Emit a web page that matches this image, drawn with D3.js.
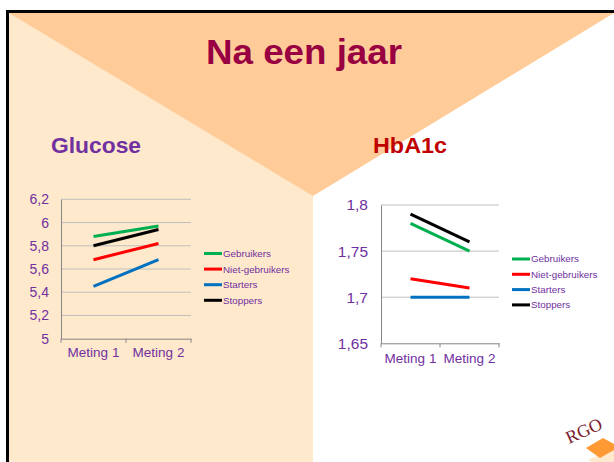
<!DOCTYPE html>
<html>
<head>
<meta charset="utf-8">
<script src="https://cdn.jsdelivr.net/npm/d3@7"></script>
<style>
  html, body { margin: 0; padding: 0; background: #ffffff; }
  svg { display: block; font-family: "Liberation Sans", Arial, sans-serif; }
</style>
</head>
<body>
<svg id="chart" width="614" height="462"></svg>
<script>
// ---------------- DATA ----------------
const categories = ["Meting 1", "Meting 2"];
const seriesNames = ["Gebruikers", "Niet-gebruikers", "Starters", "Stoppers"];
const seriesColors = ["#00B050", "#FF0000", "#0070C0", "#000000"];

const glucoseGebruikers = [5.88, 5.97];
const glucoseNietGebruikers = [5.68, 5.82];
const glucoseStarters = [5.45, 5.68];
const glucoseStoppers = [5.80, 5.94];
const glucoseTicks = [5, 5.2, 5.4, 5.6, 5.8, 6, 6.2];

const hba1cGebruikers = [1.78, 1.75];
const hba1cNietGebruikers = [1.72, 1.71];
const hba1cStarters = [1.70, 1.70];
const hba1cStoppers = [1.79, 1.76];
const hba1cTicks = [1.65, 1.7, 1.75, 1.8];

const pageTitle = "Na een jaar";
const chartTitles = ["Glucose", "HbA1c"];

// ---------------- BACKGROUND ----------------
const svg = d3.select("#chart");
const W = 614, H = 462;
const L = 9, T = 13, apexX = 313, apexY = 196;

svg.append("rect").attr("x", L).attr("y", T).attr("width", apexX - L).attr("height", H - T)
  .attr("fill", "#FFE9CC");
svg.append("polygon")
  .attr("points", [[L, T], [W, T], [apexX, apexY]].map(p => p.join(",")).join(" "))
  .attr("fill", "#FFCC99");
// border
svg.append("path").attr("d", `M${L - 1.5},${H + 2} L${L - 1.5},${T - 1.5} L${W + 2},${T - 1.5}`)
  .attr("fill", "none").attr("stroke", "#000").attr("stroke-width", 3);

// titles
svg.append("text").attr("x", 304).attr("y", 64).attr("text-anchor", "middle")
  .attr("font-size", 35).attr("font-weight", "bold").attr("fill", "#990042")
  .attr("textLength", 196).attr("lengthAdjust", "spacingAndGlyphs").text(pageTitle);
svg.append("text").attr("x", 51).attr("y", 153).attr("font-size", 22).attr("font-weight", "bold")
  .attr("fill", "#7030A0").attr("textLength", 90).attr("lengthAdjust", "spacingAndGlyphs").text(chartTitles[0]);
svg.append("text").attr("x", 373).attr("y", 153).attr("font-size", 22).attr("font-weight", "bold")
  .attr("fill", "#C00000").attr("textLength", 74).attr("lengthAdjust", "spacingAndGlyphs").text(chartTitles[1]);

// ---------------- CHARTS ----------------
const textColor = "#7030A0";
const fmt = d => String(d).replace(".", ",");

function drawChart(cfg) {
  const g = svg.append("g");
  const x = d3.scaleBand().domain(categories).range([cfg.x0, cfg.x1]).padding(0);
  const y = d3.scaleLinear().domain(cfg.domain).range([cfg.yBottom, cfg.yTop]);

  // gridlines
  g.append("g").selectAll("line").data(cfg.ticks.slice(1)).join("line")
    .attr("x1", cfg.x0).attr("x2", cfg.x1)
    .attr("y1", d => y(d)).attr("y2", d => y(d))
    .attr("stroke", "#BFBFBF").attr("stroke-width", 1);

  // y axis
  const ya = g.append("g").attr("transform", `translate(${cfg.x0},0)`)
    .call(d3.axisLeft(y).tickValues(cfg.ticks).tickFormat(fmt).tickSize(0).tickPadding(cfg.tickPad));
  ya.select(".domain").attr("stroke", "#868686");
  ya.selectAll("text").attr("fill", textColor).attr("font-size", cfg.tickFont)
    .attr("font-family", "Liberation Sans, Arial, sans-serif");

  // x axis
  const xa = g.append("g").attr("transform", `translate(0,${cfg.yBottom})`)
    .call(d3.axisBottom(x).tickSize(0).tickPadding(cfg.catPad));
  xa.select(".domain").attr("stroke", "#868686");
  xa.selectAll("text").attr("fill", textColor).attr("font-size", cfg.catFont)
    .attr("font-family", "Liberation Sans, Arial, sans-serif");
  // boundary tick marks
  const bounds = [cfg.x0, ...categories.map(c => x(c) + x.bandwidth())];
  xa.append("g").selectAll("line").data(bounds).join("line")
    .attr("x1", d => d).attr("x2", d => d).attr("y1", 0).attr("y2", 4)
    .attr("stroke", "#868686");

  // series lines
  const line = d3.line().x((d, i) => x(categories[i]) + x.bandwidth() / 2).y(d => y(d));
  g.append("g").selectAll("path").data(cfg.series).join("path")
    .attr("d", d => line(d.values)).attr("fill", "none")
    .attr("stroke", d => d.color).attr("stroke-width", 3);

  // legend
  const lg = g.append("g");
  cfg.series.forEach((s, i) => {
    const yy = cfg.legY + i * cfg.legStep;
    lg.append("line").attr("x1", cfg.legX).attr("x2", cfg.legX + 18).attr("y1", yy).attr("y2", yy)
      .attr("stroke", s.color).attr("stroke-width", 3);
    lg.append("text").attr("x", cfg.legX + 19).attr("y", yy).attr("dy", "0.35em")
      .attr("font-size", 9.8).attr("fill", textColor).text(s.name);
  });
}

const glucoseSeries = [glucoseGebruikers, glucoseNietGebruikers, glucoseStarters, glucoseStoppers]
  .map((v, i) => ({ name: seriesNames[i], color: seriesColors[i], values: v }));
drawChart({
  x0: 61, x1: 191, yTop: 199.3, yBottom: 338.7, domain: [5, 6.2], ticks: glucoseTicks,
  tickPad: 12, tickFont: 14, catPad: 9, catFont: 13.5,
  series: glucoseSeries, legX: 204, legY: 253.5, legStep: 15.6
});

const hba1cSeries = [hba1cGebruikers, hba1cNietGebruikers, hba1cStarters, hba1cStoppers]
  .map((v, i) => ({ name: seriesNames[i], color: seriesColors[i], values: v }));
drawChart({
  x0: 381, x1: 499, yTop: 205, yBottom: 343.3, domain: [1.65, 1.8], ticks: hba1cTicks,
  tickPad: 13, tickFont: 15.5, catPad: 10, catFont: 13.5,
  series: hba1cSeries, legX: 512, legY: 259, legStep: 15.3
});

// ---------------- LOGO ----------------
const logo = svg.append("g");
logo.append("polygon").attr("points", "588,460 614,448 614,462 592,462").attr("fill", "#FFE9CC");
logo.append("polygon").attr("points", "586,448 603,438 614,444 614,450 600,458").attr("fill", "#FF9933");
logo.append("text").attr("x", 569).attr("y", 444).attr("transform", "rotate(-24,569,444)")
  .attr("font-family", "Liberation Serif, Times New Roman, serif").attr("font-size", 18)
  .attr("fill", "#7B1C2E").text("RGO");
</script>
</body>
</html>
